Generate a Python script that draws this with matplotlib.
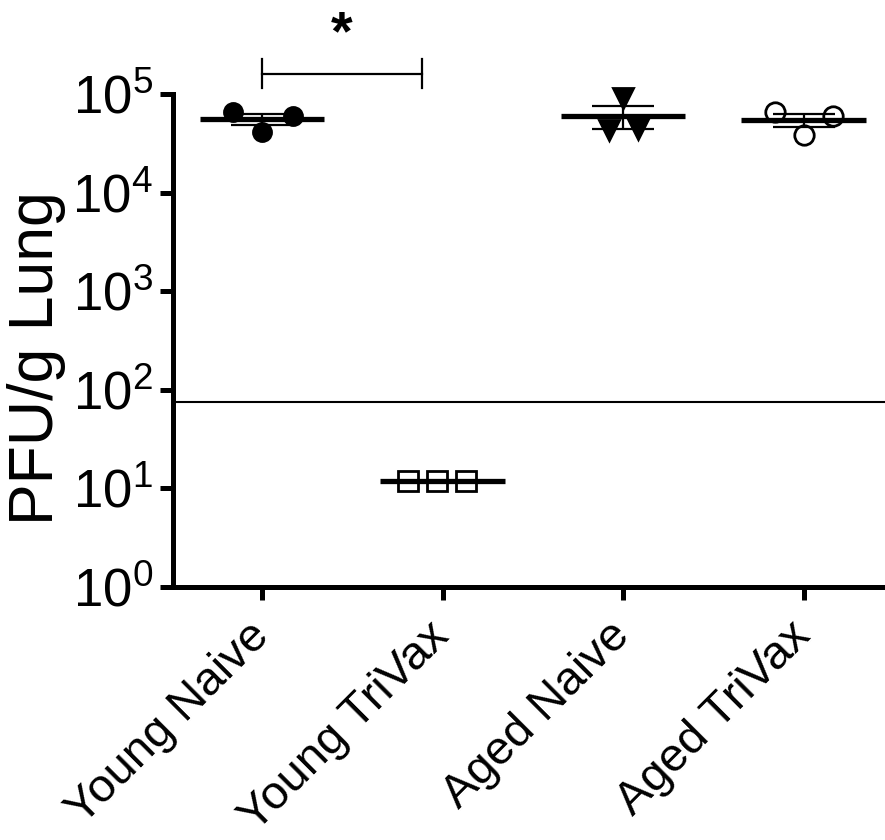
import numpy as np
import matplotlib
matplotlib.use('Agg')
import matplotlib.pyplot as plt

plt.rcParams['font.family'] = ['Liberation Sans', 'DejaVu Sans']
plt.rcParams['mathtext.default'] = 'regular'

# groups and values (PFU/g lung)
groups = ['Young Naive', 'Young TriVax', 'Aged Naive', 'Aged TriVax']
young_naive = [65000, 41600, 59500]
young_trivax = [12, 12, 12]
aged_naive = [92000, 43000, 44500]
aged_trivax = [65000, 38700, 59500]
limit_of_detection = 75

yticks = [1, 10, 100, 1000, 10000, 100000]
ytick_labels = ['$10^{%d}$' % i for i in range(6)]

series = [young_naive, young_trivax, aged_naive, aged_trivax]
markers = ['o', 's', 'v', 'o']
filled = [True, False, True, False]
msizes = [13, 14, 14, 14]
jitter = [[-0.16, 0.0, 0.17], [-0.19, -0.03, 0.13], [0.0, -0.08, 0.08], [-0.16, 0.0, 0.16]]

fig = plt.figure(figsize=(8.85, 8.4), dpi=100)
ax = fig.add_axes([0.1955, 0.3012, 0.8045, 0.5869])

for i, vals in enumerate(series):
    vals = np.array(vals, dtype=float)
    xs = i + np.array(jitter[i])
    fc = 'black' if filled[i] else 'none'
    ax.plot(xs, vals, linestyle='none', marker=markers[i], ms=msizes[i],
            mfc=fc, mec='black', mew=2, clip_on=False, zorder=3)
    m = vals.mean()
    sem = vals.std(ddof=1) / np.sqrt(len(vals))
    ax.hlines(m, i - 0.345, i + 0.345, color='black', lw=3.8, zorder=4)
    if sem > 0:
        ax.errorbar(i, m, yerr=sem, fmt='none', ecolor='black', elinewidth=1.6,
                    capsize=22, capthick=1.6, zorder=4)

ax.axhline(limit_of_detection, color='black', lw=1.5, zorder=2)

ax.set_yscale('log')
ax.set_ylim(1, 1e5)
ax.set_xlim(-0.493, 3.45)
ax.set_yticks(yticks)
ax.set_yticklabels(ytick_labels)
ax.yaxis.set_minor_locator(matplotlib.ticker.NullLocator())
ax.set_xticks(range(len(groups)))
ax.set_xticklabels(groups, rotation=45, ha='right', va='center', rotation_mode='anchor')

ax.spines['top'].set_visible(False)
ax.spines['right'].set_visible(False)
for s in ['left', 'bottom']:
    ax.spines[s].set_linewidth(3.6)
ax.tick_params(axis='both', width=3.6, length=9.5, color='black')
ax.tick_params(axis='y', pad=5, labelsize=38)
ax.tick_params(axis='x', pad=21, labelsize=34)
ax.set_ylabel('PFU/g Lung', fontsize=45)
ax.yaxis.set_label_coords(-0.15, 0.465)

# significance bracket
bx0, bx1, by = 0, 0.886, 1.6e5
ax.plot([bx0, bx1], [by, by], color='black', lw=1.6, clip_on=False)
ax.plot([bx0, bx0], [1.16e5, 2.24e5], color='black', lw=1.6, clip_on=False)
ax.plot([bx1, bx1], [1.16e5, 2.24e5], color='black', lw=1.6, clip_on=False)
ax.text((bx0 + bx1) / 2, 10 ** 5.33, '*', fontsize=40, fontweight='bold',
        ha='center', va='bottom', clip_on=False)

fig.savefig('out.png', dpi=100)
